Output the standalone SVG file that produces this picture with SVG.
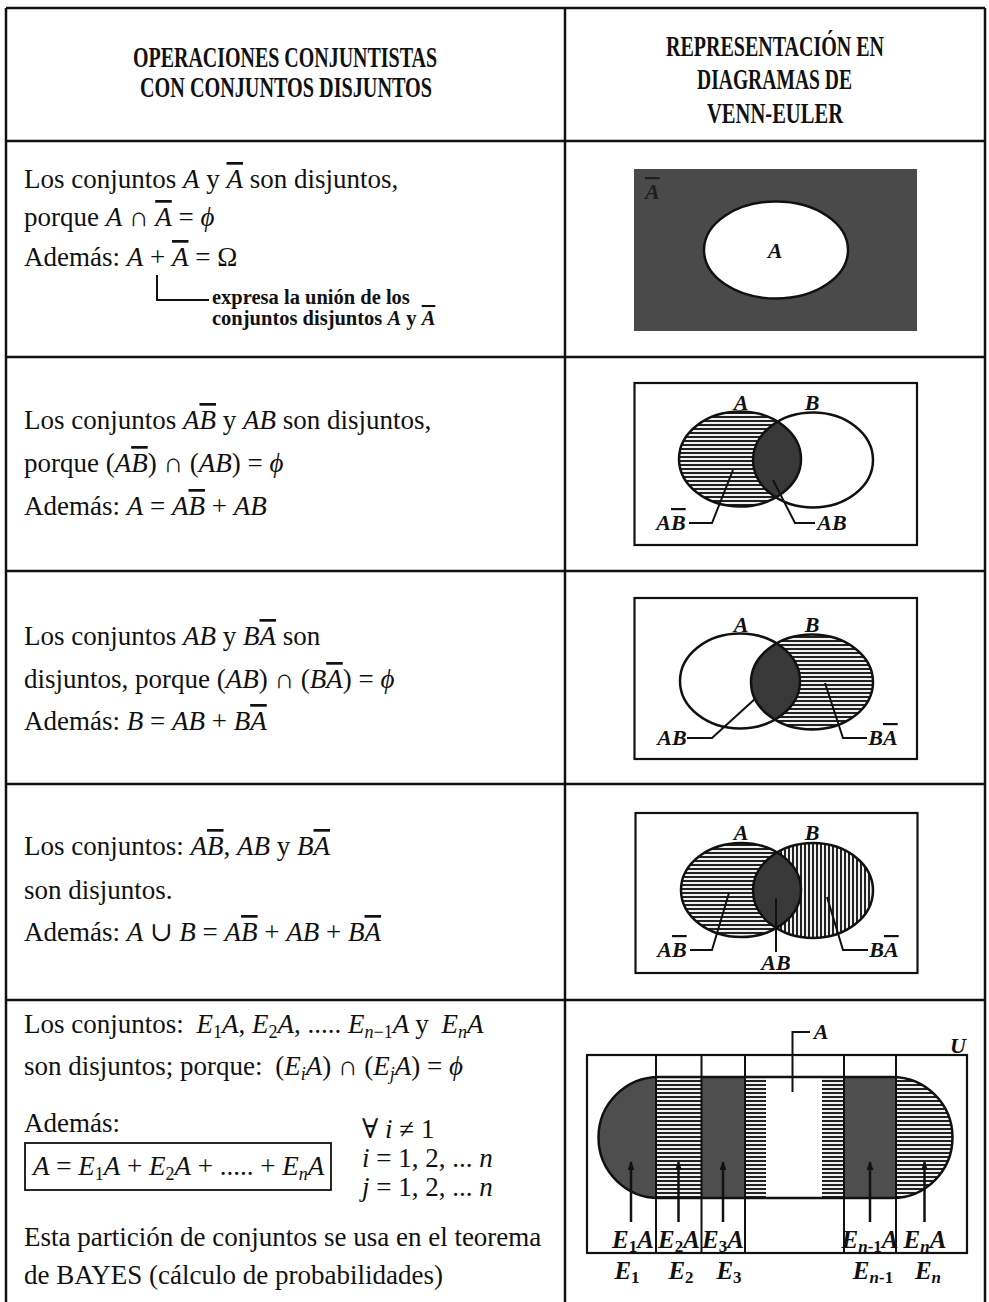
<svg xmlns="http://www.w3.org/2000/svg" width="989" height="1302" viewBox="0 0 989 1302">
<style>
text{font-family:"Liberation Serif","DejaVu Serif",serif;fill:#111}
.t{font-size:27px}
.i{font-style:italic}
.ov{text-decoration:overline}
.sub{font-size:18px}
.h{font-size:29px;font-weight:bold}
.note{font-size:20.5px;font-weight:bold}
.lbl{font-size:22px;font-style:italic;font-weight:bold}
.el{font-size:25px;font-style:italic;font-weight:bold}
.es{font-size:17px;font-style:normal}
.es.i{font-style:italic}
.grid{stroke:#111;stroke-width:2.5;fill:none}
.ln{stroke:#111;stroke-width:2;fill:none}
.arw{stroke:#111;stroke-width:2.5;fill:none}
.frame{stroke:#111;stroke-width:2.2;fill:none}
.outl{stroke:#111;stroke-width:2.5;fill:none}
</style>
<defs>
<pattern id="hh" width="8" height="4" patternUnits="userSpaceOnUse"><rect width="8" height="4" fill="#f0f0f0"/><rect width="8" height="2" fill="#222"/></pattern>
<pattern id="vv" width="4" height="8" patternUnits="userSpaceOnUse"><rect width="4" height="8" fill="#f0f0f0"/><rect width="2" height="8" fill="#222"/></pattern>
<clipPath id="cB2"><ellipse cx="813" cy="460" rx="60" ry="47.5"/></clipPath>
<clipPath id="cB3"><ellipse cx="812" cy="682" rx="61" ry="47.5"/></clipPath>
<clipPath id="cB4"><ellipse cx="813" cy="890.5" rx="60" ry="47.5"/></clipPath>
<clipPath id="cSt"><path d="M659 1077 H892 A60.5 60.5 0 0 1 892 1198 H659 A60.5 60.5 0 0 1 659 1077 Z"/></clipPath>
<marker id="arr" viewBox="0 0 10 8" refX="9" refY="4" markerUnits="userSpaceOnUse" markerWidth="10" markerHeight="7" orient="auto"><path d="M0 0 L10 4 L0 8 Z" fill="#111"/></marker>
</defs>
<rect width="989" height="1302" fill="#fff"/>

<g id="table">
<path class="grid" d="M6 8 H985 M6 8 V1302 M985 8 V1302 M565 8 V1302 M6 141 H985 M6 357 H985 M6 571 H985 M6 784 H985 M6 1000 H985"/>
</g>

<g id="header">
<text class="h" x="133" y="67" textLength="304" lengthAdjust="spacingAndGlyphs">OPERACIONES CONJUNTISTAS</text>
<text class="h" x="140" y="97" textLength="292" lengthAdjust="spacingAndGlyphs">CON CONJUNTOS DISJUNTOS</text>
<text class="h" x="666" y="56" textLength="218" lengthAdjust="spacingAndGlyphs">REPRESENTACIÓN EN</text>
<text class="h" x="697" y="89" textLength="155" lengthAdjust="spacingAndGlyphs">DIAGRAMAS DE</text>
<text class="h" x="707" y="123" textLength="136" lengthAdjust="spacingAndGlyphs">VENN-EULER</text>
</g>

<g id="row1-text">
<text class="t" x="24" y="188">Los conjuntos <tspan class="i">A</tspan> y <tspan class="i ov">A</tspan> son disjuntos,</text>
<text class="t" x="24" y="226">porque <tspan class="i">A</tspan> ∩ <tspan class="i ov">A</tspan> = <tspan class="i">ϕ</tspan></text>
<text class="t" x="24" y="266">Además: <tspan class="i">A</tspan> + <tspan class="i ov">A</tspan> = Ω</text>
<text class="note" x="212" y="304">expresa la unión de los</text>
<text class="note" x="212" y="325">conjuntos disjuntos <tspan class="i">A</tspan> y <tspan class="i ov">A</tspan></text>
</g>

<g id="row1-diagram">
<rect x="634" y="169" width="283" height="162" fill="#4a4a4a"/>
<ellipse cx="776" cy="250" rx="72" ry="48.5" fill="#fff" stroke="#111" stroke-width="2.5"/>
<text class="lbl" x="775" y="258" text-anchor="middle">A</text>
<text class="lbl" x="645" y="199" style="fill:#1e1e1e"><tspan class="ov">A</tspan></text>
</g>

<g id="row2-text">
<text class="t" x="24" y="429">Los conjuntos <tspan class="i">A<tspan class="ov">B</tspan></tspan> y <tspan class="i">AB</tspan> son disjuntos,</text>
<text class="t" x="24" y="472">porque (<tspan class="i">A<tspan class="ov">B</tspan></tspan>) ∩ (<tspan class="i">AB</tspan>) = <tspan class="i">ϕ</tspan></text>
<text class="t" x="24" y="515">Además: <tspan class="i">A</tspan> = <tspan class="i">A<tspan class="ov">B</tspan></tspan> + <tspan class="i">AB</tspan></text>
</g>

<g id="row2-diagram">
<rect class="frame" x="634.5" y="383" width="282.5" height="162"/>
<ellipse cx="740" cy="459" rx="61" ry="47.5" fill="url(#hh)"/>
<ellipse cx="740" cy="459" rx="61" ry="47.5" fill="#383838" clip-path="url(#cB2)"/>
<ellipse class="outl" cx="813" cy="460" rx="60" ry="47.5"/>
<ellipse class="outl" cx="740" cy="459" rx="61" ry="47.5"/>
<text class="lbl" x="741" y="410" text-anchor="middle">A</text>
<text class="lbl" x="812" y="410" text-anchor="middle">B</text>
<text class="lbl" x="671" y="530" text-anchor="middle">A<tspan class="ov">B</tspan></text>
<text class="lbl" x="832" y="530" text-anchor="middle">AB</text>
</g>

<g id="row3-text">
<text class="t" x="24" y="645">Los conjuntos <tspan class="i">AB</tspan> y <tspan class="i">B<tspan class="ov">A</tspan></tspan> son</text>
<text class="t" x="24" y="688">disjuntos, porque (<tspan class="i">AB</tspan>) ∩ (<tspan class="i">B<tspan class="ov">A</tspan></tspan>) = <tspan class="i">ϕ</tspan></text>
<text class="t" x="24" y="730">Además: <tspan class="i">B</tspan> = <tspan class="i">AB</tspan> + <tspan class="i">B<tspan class="ov">A</tspan></tspan></text>
</g>

<g id="row3-diagram">
<rect class="frame" x="634.5" y="598" width="282.5" height="161"/>
<ellipse cx="812" cy="682" rx="61" ry="47.5" fill="url(#hh)"/>
<ellipse cx="740" cy="681" rx="60" ry="47.5" fill="#383838" clip-path="url(#cB3)"/>
<ellipse class="outl" cx="740" cy="681" rx="60" ry="47.5"/>
<ellipse class="outl" cx="812" cy="682" rx="61" ry="47.5"/>
<text class="lbl" x="741" y="632" text-anchor="middle">A</text>
<text class="lbl" x="812" y="632" text-anchor="middle">B</text>
<text class="lbl" x="672" y="745" text-anchor="middle">AB</text>
<text class="lbl" x="883" y="745" text-anchor="middle">B<tspan class="ov">A</tspan></text>
</g>

<g id="row4-text">
<text class="t" x="24" y="855">Los conjuntos: <tspan class="i">A<tspan class="ov">B</tspan></tspan>, <tspan class="i">AB</tspan> y <tspan class="i">B<tspan class="ov">A</tspan></tspan></text>
<text class="t" x="24" y="899">son disjuntos.</text>
<text class="t" x="24" y="941">Además: <tspan class="i">A</tspan> ∪ <tspan class="i">B</tspan> = <tspan class="i">A<tspan class="ov">B</tspan></tspan> + <tspan class="i">AB</tspan> + <tspan class="i">B<tspan class="ov">A</tspan></tspan></text>
</g>

<g id="row4-diagram">
<rect class="frame" x="635.5" y="813" width="282" height="160"/>
<ellipse cx="741" cy="890" rx="60" ry="47" fill="url(#hh)"/>
<ellipse cx="813" cy="890.5" rx="60" ry="47.5" fill="url(#vv)"/>
<ellipse cx="741" cy="890" rx="60" ry="47" fill="#383838" clip-path="url(#cB4)"/>
<ellipse class="outl" cx="741" cy="890" rx="60" ry="47"/>
<ellipse class="outl" cx="813" cy="890.5" rx="60" ry="47.5"/>
<text class="lbl" x="741" y="840" text-anchor="middle">A</text>
<text class="lbl" x="812" y="840" text-anchor="middle">B</text>
<text class="lbl" x="672" y="957" text-anchor="middle">A<tspan class="ov">B</tspan></text>
<text class="lbl" x="776" y="970" text-anchor="middle">AB</text>
<text class="lbl" x="884" y="957" text-anchor="middle">B<tspan class="ov">A</tspan></text>
</g>

<g id="row5-text">
<text class="t" x="24" y="1033">Los conjuntos: <tspan dx="6" class="i">E</tspan><tspan class="sub" dy="5">1</tspan><tspan class="i" dy="-5">A</tspan>, <tspan class="i">E</tspan><tspan class="sub" dy="5">2</tspan><tspan class="i" dy="-5">A</tspan>, ..... <tspan class="i">E</tspan><tspan class="sub" dy="5"><tspan class="i">n</tspan>−1</tspan><tspan class="i" dy="-5">A</tspan><tspan dx="6">y</tspan><tspan dx="6" class="i"> E</tspan><tspan class="sub i" dy="5">n</tspan><tspan class="i" dy="-5">A</tspan></text>
<text class="t" x="24" y="1075">son disjuntos; porque: <tspan dx="6">(</tspan><tspan class="i">E</tspan><tspan class="sub i" dy="5">i</tspan><tspan class="i" dy="-5">A</tspan>) ∩ (<tspan class="i">E</tspan><tspan class="sub i" dy="5">j</tspan><tspan class="i" dy="-5">A</tspan>) = <tspan class="i">ϕ</tspan></text>
<text class="t" x="24" y="1132">Además:</text>
<rect x="25" y="1143" width="306" height="47" fill="none" stroke="#111" stroke-width="1.8"/>
<text class="t" x="33" y="1175"><tspan class="i">A</tspan> = <tspan class="i">E</tspan><tspan class="sub" dy="5">1</tspan><tspan class="i" dy="-5">A</tspan> + <tspan class="i">E</tspan><tspan class="sub" dy="5">2</tspan><tspan class="i" dy="-5">A</tspan> + ..... + <tspan class="i">E</tspan><tspan class="sub i" dy="5">n</tspan><tspan class="i" dy="-5">A</tspan></text>
<text class="t" x="362" y="1138" font-size="23">∀ <tspan class="i">i</tspan> ≠ 1</text>
<text class="t" x="362" y="1167" font-size="23"><tspan class="i">i</tspan> = 1, 2, ... <tspan class="i">n</tspan></text>
<text class="t" x="362" y="1196" font-size="23"><tspan class="i">j</tspan> = 1, 2, ... <tspan class="i">n</tspan></text>
<text class="t" x="24" y="1246" font-size="26.7">Esta partición de conjuntos se usa en el teorema</text>
<text class="t" x="24" y="1284" font-size="26.7">de BAYES (cálculo de probabilidades)</text>
</g>

<g id="row5-diagram">
<g clip-path="url(#cSt)">
<rect x="586" y="1070" width="70" height="135" fill="#4e4e4e"/>
<rect x="656" y="1070" width="45.5" height="135" fill="url(#hh)"/>
<rect x="701.5" y="1070" width="43.5" height="135" fill="#4e4e4e"/>
<rect x="745" y="1070" width="21" height="135" fill="url(#hh)"/>
<rect x="766" y="1070" width="56" height="135" fill="#fff"/>
<rect x="822" y="1070" width="22" height="135" fill="url(#hh)"/>
<rect x="844" y="1070" width="52" height="135" fill="#4e4e4e"/>
<rect x="896" y="1070" width="70" height="135" fill="url(#hh)"/>
</g>
<path class="outl" d="M659 1077 H892 A60.5 60.5 0 0 1 892 1198 H659 A60.5 60.5 0 0 1 659 1077 Z"/>
<rect class="frame" x="587" y="1055" width="380" height="198"/>
<path class="ln" d="M656 1055 V1253 M701.5 1055 V1253 M745 1055 V1253 M844 1055 V1253 M896 1055 V1253"/>
<text class="lbl" x="958" y="1053" text-anchor="middle" font-size="27">U</text>
<text class="lbl" x="821" y="1039" text-anchor="middle" font-size="21">A</text>
<text class="el" x="633" y="1248" text-anchor="middle">E<tspan class="es" dy="4">1</tspan><tspan dy="-4">A</tspan></text>
<text class="el" x="679" y="1248" text-anchor="middle">E<tspan class="es" dy="4">2</tspan><tspan dy="-4">A</tspan></text>
<text class="el" x="723" y="1248" text-anchor="middle">E<tspan class="es" dy="4">3</tspan><tspan dy="-4">A</tspan></text>
<text class="el" x="870" y="1248" text-anchor="middle">E<tspan class="es" dy="4"><tspan class="i">n</tspan>-1</tspan><tspan dy="-4">A</tspan></text>
<text class="el" x="925" y="1248" text-anchor="middle">E<tspan class="es i" dy="4">n</tspan><tspan dy="-4">A</tspan></text>
<text class="el" x="627" y="1279" text-anchor="middle">E<tspan class="es" dy="4">1</tspan></text>
<text class="el" x="681" y="1279" text-anchor="middle">E<tspan class="es" dy="4">2</tspan></text>
<text class="el" x="729" y="1279" text-anchor="middle">E<tspan class="es" dy="4">3</tspan></text>
<text class="el" x="873" y="1279" text-anchor="middle">E<tspan class="es" dy="4"><tspan class="i">n</tspan>-1</tspan></text>
<text class="el" x="928" y="1279" text-anchor="middle">E<tspan class="es i" dy="4">n</tspan></text>
</g>

<g id="connectors">
<path class="ln" d="M157 275 V300 H209"/>
<path class="ln" d="M689 523 H712 L733 470"/>
<path class="ln" d="M815 523 H795 L773 480"/>
<path class="ln" d="M687 738 H712 L756 698"/>
<path class="ln" d="M867 738 H843 L825 683"/>
<path class="ln" d="M690 950 H712 L729 893"/>
<path class="ln" d="M776 952 V898"/>
<path class="ln" d="M868 950 H843 L827 897"/>
<path class="ln" d="M810 1032 H792.5 V1092"/>
<path class="arw" d="M631 1222 V1162" marker-end="url(#arr)"/>
<path class="arw" d="M678.5 1222 V1162" marker-end="url(#arr)"/>
<path class="arw" d="M723 1222 V1162" marker-end="url(#arr)"/>
<path class="arw" d="M870 1222 V1162" marker-end="url(#arr)"/>
<path class="arw" d="M924.5 1222 V1162" marker-end="url(#arr)"/>
</g>
</svg>
